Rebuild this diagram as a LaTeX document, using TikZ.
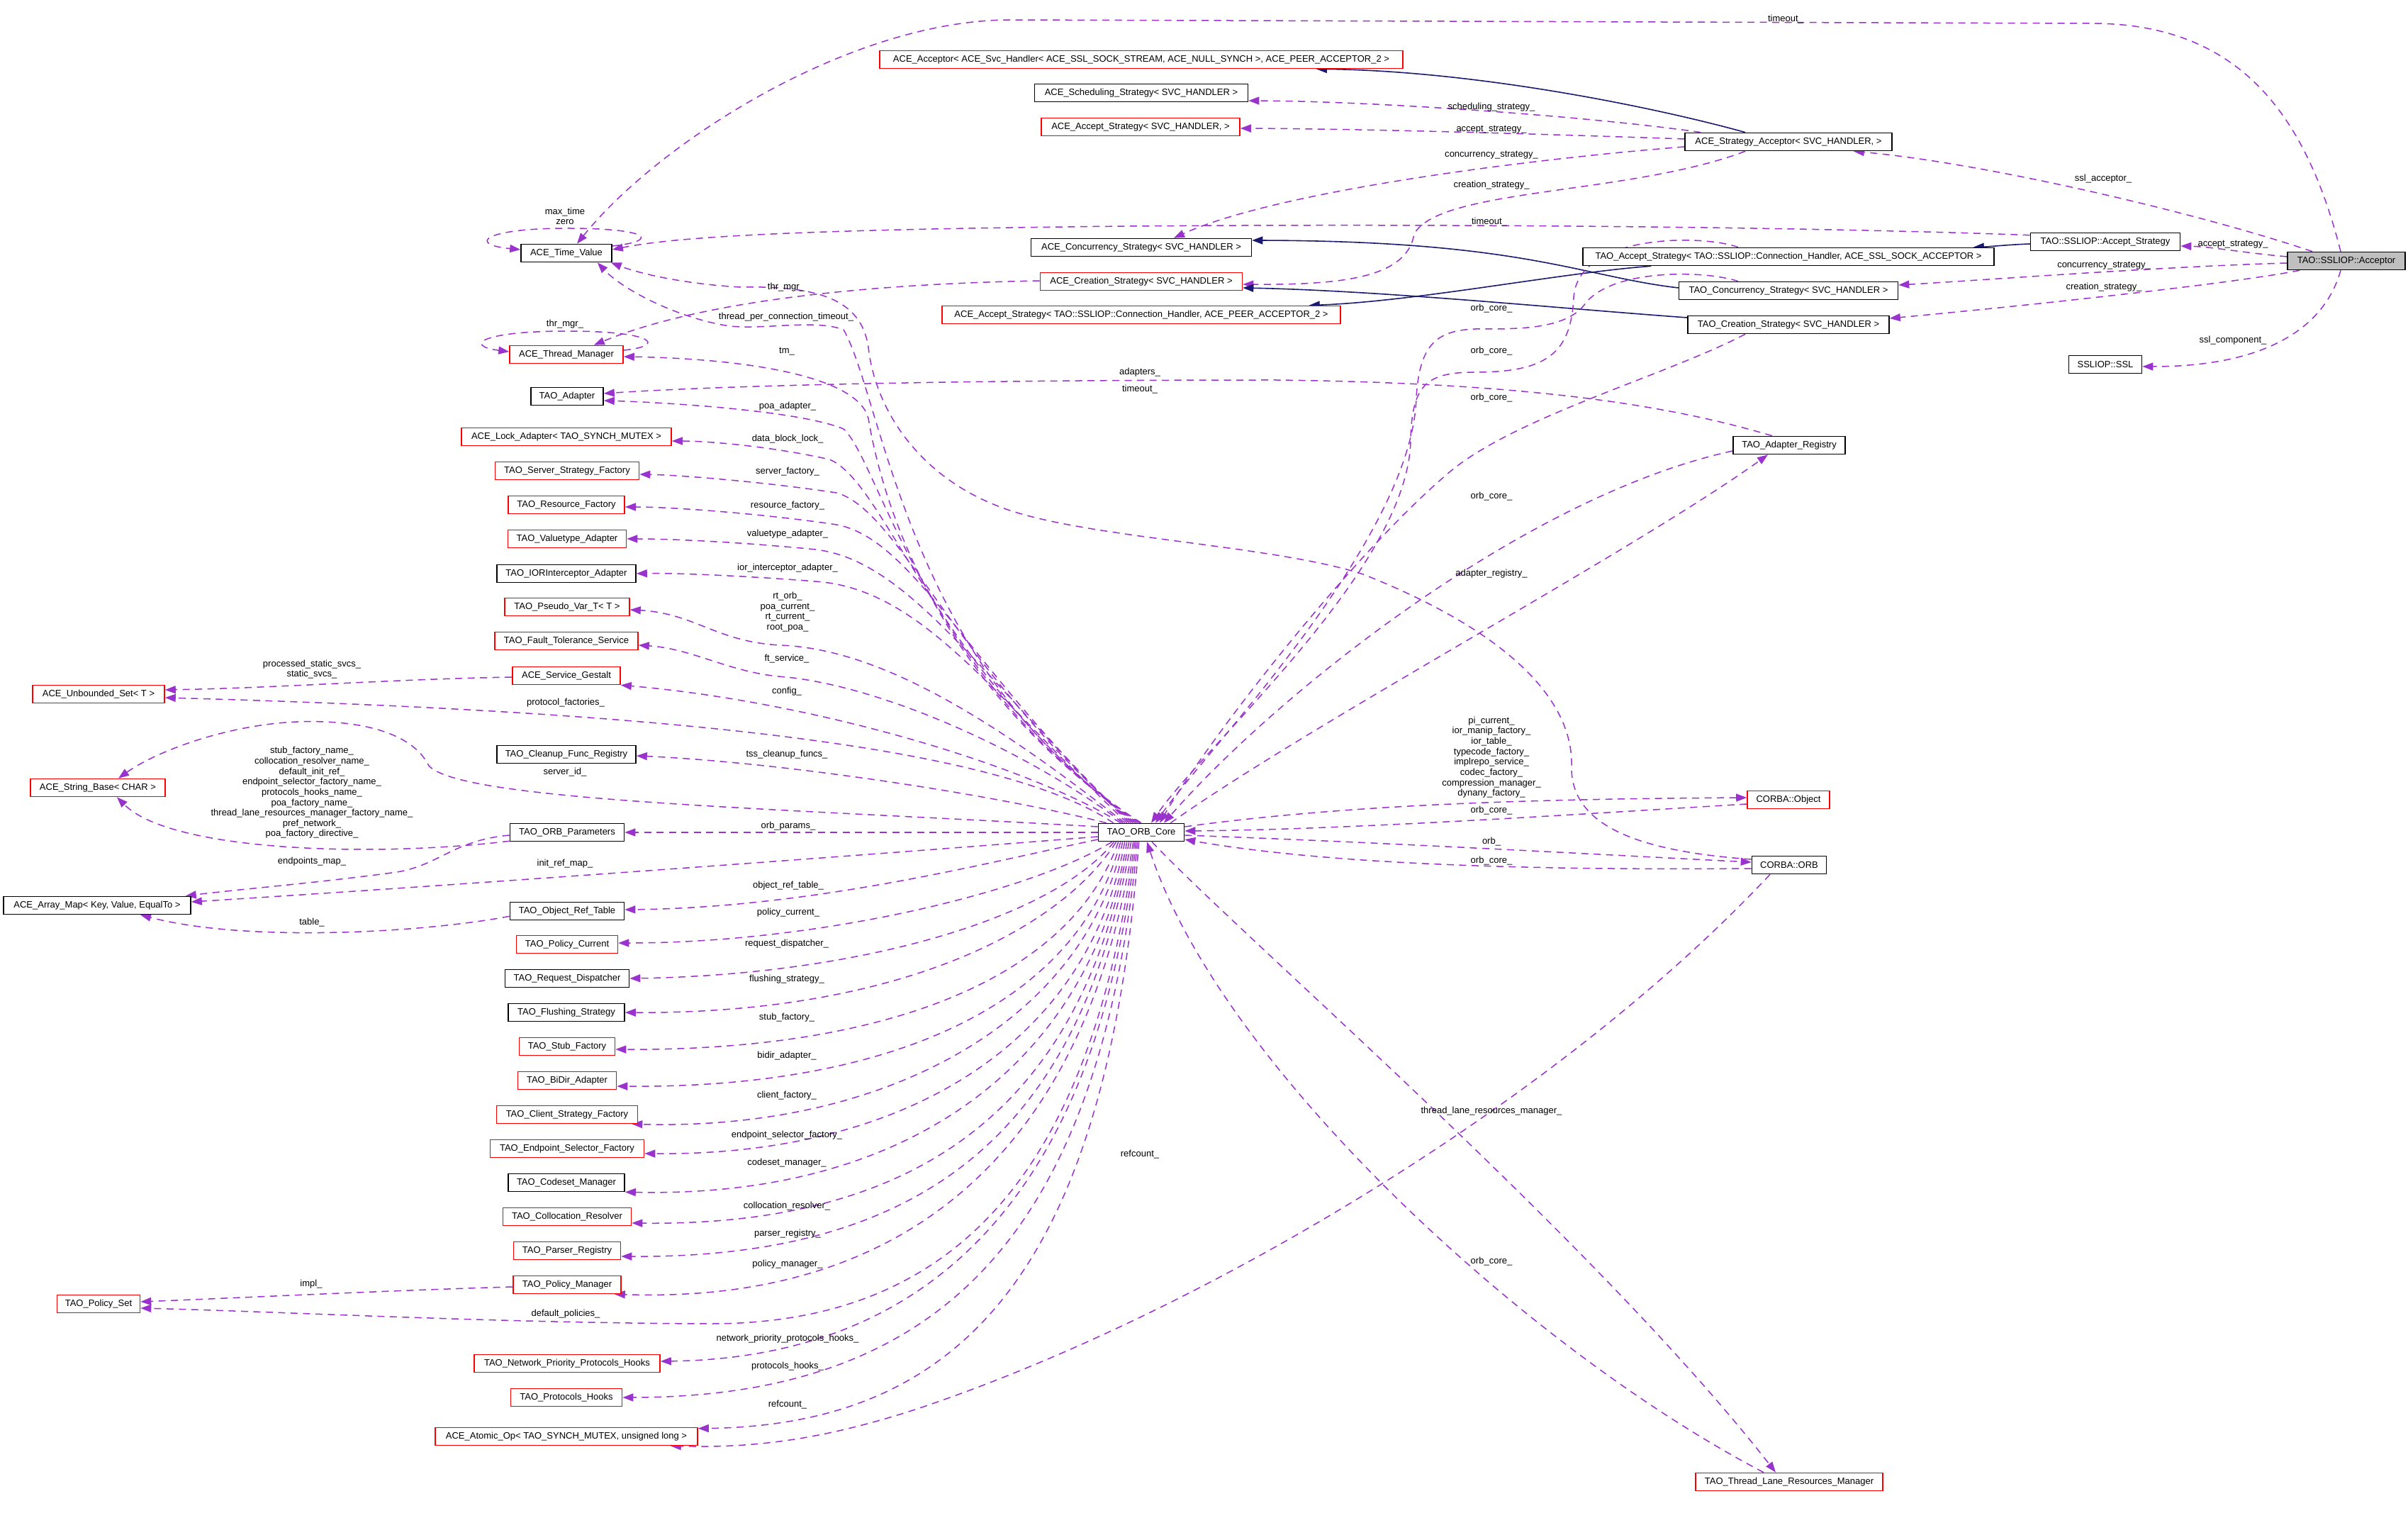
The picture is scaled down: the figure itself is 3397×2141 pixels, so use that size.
\documentclass[tikz,border=0pt]{standalone}
\usepackage{fontspec}
\setmainfont{Liberation Sans}
\usetikzlibrary{arrows.meta,calc}
\pgfdeclarelayer{bg}
\pgfsetlayers{bg,main}
\definecolor{depc}{HTML}{9A32CD}
\definecolor{inhc}{HTML}{191970}
\definecolor{grayfill}{HTML}{BFBFBF}
\newcommand{\dgfont}{\fontsize{3.7pt}{4.17pt}\selectfont}
\begin{document}
\begin{tikzpicture}[x=0.1mm,y=-0.1mm,
 box/.style={draw=black, line width=0.16mm, fill=white, minimum height=2.5mm, inner sep=0pt, font=\dgfont},
 rbox/.style={box, draw=red},
 mbox/.style={box, fill=grayfill},
 lbl/.style={font=\dgfont, inner sep=0pt, align=center},
 dep/.style={draw=depc, line width=0.15mm, dash pattern=on 1mm off 0.75mm, -{Triangle[length=1.5mm,width=1.1mm]}},
 inh/.style={draw=inhc, line width=0.16mm, -{Triangle[length=1.5mm,width=1.1mm]}}]
\useasboundingbox (0,0) rectangle (3397,2141);
% ---------- nodes ----------
\node[rbox, minimum width=73.8mm] (acc) at (1610,84) {ACE\_Acceptor< ACE\_Svc\_Handler< ACE\_SSL\_SOCK\_STREAM, ACE\_NULL\_SYNCH >, ACE\_PEER\_ACCEPTOR\_2 >};
\node[box, minimum width=30.1mm] (sched) at (1610,131) {ACE\_Scheduling\_Strategy< SVC\_HANDLER >};
\node[rbox, minimum width=28.0mm] (acs) at (1609,179) {ACE\_Accept\_Strategy< SVC\_HANDLER, >};
\node[box, minimum width=12.8mm] (tv) at (799,357) {ACE\_Time\_Value};
\node[box, minimum width=31.1mm] (ccs) at (1610,349) {ACE\_Concurrency\_Strategy< SVC\_HANDLER >};
\node[rbox, minimum width=28.5mm] (crs) at (1610,397) {ACE\_Creation\_Strategy< SVC\_HANDLER >};
\node[rbox, minimum width=56.2mm] (acst) at (1610,444) {ACE\_Accept\_Strategy< TAO::SSLIOP::Connection\_Handler, ACE\_PEER\_ACCEPTOR\_2 >};
\node[rbox, minimum width=16.0mm] (tmgr) at (799,500) {ACE\_Thread\_Manager};
\node[box, minimum width=29.2mm] (sa) at (2523,200) {ACE\_Strategy\_Acceptor< SVC\_HANDLER, >};
\node[box, minimum width=21.1mm] (sas) at (2970,341) {TAO::SSLIOP::Accept\_Strategy};
\node[box, minimum width=58.0mm] (tas) at (2523,362) {TAO\_Accept\_Strategy< TAO::SSLIOP::Connection\_Handler, ACE\_SSL\_SOCK\_ACCEPTOR >};
\node[mbox, minimum width=16.6mm] (main) at (3310,368) {TAO::SSLIOP::Acceptor};
\node[box, minimum width=30.9mm] (tcs) at (2523,410) {TAO\_Concurrency\_Strategy< SVC\_HANDLER >};
\node[box, minimum width=28.4mm] (tcr) at (2523,458) {TAO\_Creation\_Strategy< SVC\_HANDLER >};
\node[box, minimum width=10.3mm] (ssl) at (2970,514) {SSLIOP::SSL};
\node[box, minimum width=10.2mm] (ad) at (800,559) {TAO\_Adapter};
\node[rbox, minimum width=29.6mm] (lock) at (799,616) {ACE\_Lock\_Adapter< TAO\_SYNCH\_MUTEX >};
\node[rbox, minimum width=20.3mm] (ssf) at (800,664) {TAO\_Server\_Strategy\_Factory};
\node[rbox, minimum width=16.4mm] (rf) at (799,712) {TAO\_Resource\_Factory};
\node[rbox, minimum width=16.7mm] (va) at (800,760) {TAO\_Valuetype\_Adapter};
\node[box, minimum width=19.6mm] (ior) at (799,809) {TAO\_IORInterceptor\_Adapter};
\node[rbox, minimum width=17.6mm] (pv) at (800,856) {TAO\_Pseudo\_Var\_T< T >};
\node[rbox, minimum width=20.2mm] (ft) at (799,904) {TAO\_Fault\_Tolerance\_Service};
\node[rbox, minimum width=15.2mm] (sg) at (799,953) {ACE\_Service\_Gestalt};
\node[rbox, minimum width=18.6mm] (us) at (139,979) {ACE\_Unbounded\_Set< T >};
\node[box, minimum width=19.6mm] (cfr) at (799,1064) {TAO\_Cleanup\_Func\_Registry};
\node[rbox, minimum width=19.0mm] (sb) at (138,1111) {ACE\_String\_Base< CHAR >};
\node[box, minimum width=16.1mm] (op) at (800,1174) {TAO\_ORB\_Parameters};
\node[box, minimum width=12.1mm] (core) at (1610,1174) {TAO\_ORB\_Core};
\node[box, minimum width=26.4mm] (am) at (137,1277) {ACE\_Array\_Map< Key, Value, EqualTo >};
\node[box, minimum width=16.1mm] (ort) at (800,1285) {TAO\_Object\_Ref\_Table};
\node[rbox, minimum width=14.3mm] (pc) at (800,1332) {TAO\_Policy\_Current};
\node[box, minimum width=17.5mm] (rd) at (800,1380) {TAO\_Request\_Dispatcher};
\node[box, minimum width=16.4mm] (fs) at (799,1428) {TAO\_Flushing\_Strategy};
\node[rbox, minimum width=13.5mm] (sf) at (800,1476) {TAO\_Stub\_Factory};
\node[rbox, minimum width=13.9mm] (bd) at (800,1524) {TAO\_BiDir\_Adapter};
\node[rbox, minimum width=19.9mm] (csf) at (800,1572) {TAO\_Client\_Strategy\_Factory};
\node[rbox, minimum width=21.7mm] (esf) at (800,1620) {TAO\_Endpoint\_Selector\_Factory};
\node[box, minimum width=16.4mm] (cm) at (799,1668) {TAO\_Codeset\_Manager};
\node[rbox, minimum width=18.1mm] (cr) at (800,1716) {TAO\_Collocation\_Resolver};
\node[rbox, minimum width=15.1mm] (pr) at (800,1764) {TAO\_Parser\_Registry};
\node[rbox, minimum width=15.2mm] (pm) at (800,1812) {TAO\_Policy\_Manager};
\node[rbox, minimum width=11.7mm] (ps) at (139,1839) {TAO\_Policy\_Set};
\node[rbox, minimum width=26.2mm] (npph) at (800,1923) {TAO\_Network\_Priority\_Protocols\_Hooks};
\node[rbox, minimum width=15.7mm] (ph) at (799,1971) {TAO\_Protocols\_Hooks};
\node[rbox, minimum width=37.0mm] (ao) at (799,2026) {ACE\_Atomic\_Op< TAO\_SYNCH\_MUTEX, unsigned long >};
\node[box, minimum width=15.8mm] (ar) at (2524,628) {TAO\_Adapter\_Registry};
\node[rbox, minimum width=11.6mm] (obj) at (2523,1128) {CORBA::Object};
\node[box, minimum width=10.5mm] (orb) at (2524,1220) {CORBA::ORB};
\node[rbox, minimum width=26.4mm] (tlrm) at (2524,2090) {TAO\_Thread\_Lane\_Resources\_Manager};
% ---------- labels ----------
\node[lbl] (l01) at (2519,27) {timeout\_};
\node[lbl] (l02) at (2104,151) {scheduling\_strategy\_};
\node[lbl] (l03) at (2104,183) {accept\_strategy\_};
\node[lbl] (l04) at (2104,219) {concurrency\_strategy\_};
\node[lbl] (l05) at (2104,261) {creation\_strategy\_};
\node[lbl] (l06) at (2967,252) {ssl\_acceptor\_};
\node[lbl] (l07) at (2101,313) {timeout\_};
\node[lbl] (l08) at (3150,345) {accept\_strategy\_};
\node[lbl] (l09) at (2968,375) {concurrency\_strategy\_};
\node[lbl] (l10) at (2968,405) {creation\_strategy\_};
\node[lbl] (l11) at (3150,480) {ssl\_component\_};
\node[lbl] (l12) at (2104,435) {orb\_core\_};
\node[lbl] (l13) at (2104,495) {orb\_core\_};
\node[lbl] (l14) at (2104,561) {orb\_core\_};
\node[lbl] (l15) at (2104,700) {orb\_core\_};
\node[lbl] (l16) at (2104,809) {adapter\_registry\_};
\node[lbl] (l17) at (2104,1068) {pi\_current\_\\ior\_manip\_factory\_\\ior\_table\_\\typecode\_factory\_\\implrepo\_service\_\\codec\_factory\_\\compression\_manager\_\\dynany\_factory\_};
\node[lbl] (l18) at (2104,1143) {orb\_core\_};
\node[lbl] (l19) at (2104,1187) {orb\_};
\node[lbl] (l20) at (2104,1214) {orb\_core\_};
\node[lbl] (l21) at (2104,1567) {thread\_lane\_resources\_manager\_};
\node[lbl] (l22) at (1608,1628) {refcount\_};
\node[lbl] (l23) at (2104,1779) {orb\_core\_};
\node[lbl] (l24) at (797,305) {max\_time\\zero};
\node[lbl] (l25) at (1109,405) {thr\_mgr\_};
\node[lbl] (l26) at (1109,447) {thread\_per\_connection\_timeout\_};
\node[lbl] (l27) at (797,457) {thr\_mgr\_};
\node[lbl] (l28) at (1110,496) {tm\_};
\node[lbl] (l29) at (1608,525) {adapters\_};
\node[lbl] (l30) at (1608,549) {timeout\_};
\node[lbl] (l31) at (1111,573) {poa\_adapter\_};
\node[lbl] (l32) at (1111,619) {data\_block\_lock\_};
\node[lbl] (l33) at (1111,665) {server\_factory\_};
\node[lbl] (l34) at (1111,713) {resource\_factory\_};
\node[lbl] (l35) at (1111,753) {valuetype\_adapter\_};
\node[lbl] (l36) at (1111,801) {ior\_interceptor\_adapter\_};
\node[lbl] (l37) at (1111,863) {rt\_orb\_\\poa\_current\_\\rt\_current\_\\root\_poa\_};
\node[lbl] (l38) at (1110,929) {ft\_service\_};
\node[lbl] (l39) at (1110,975) {config\_};
\node[lbl] (l40) at (440,944) {processed\_static\_svcs\_\\static\_svcs\_};
\node[lbl] (l41) at (798,991) {protocol\_factories\_};
\node[lbl] (l42) at (1110,1064) {tss\_cleanup\_funcs\_};
\node[lbl] (l43) at (797,1089) {server\_id\_};
\node[lbl] (l44) at (440,1118) {stub\_factory\_name\_\\collocation\_resolver\_name\_\\default\_init\_ref\_\\endpoint\_selector\_factory\_name\_\\protocols\_hooks\_name\_\\poa\_factory\_name\_\\thread\_lane\_resources\_manager\_factory\_name\_\\pref\_network\_\\poa\_factory\_directive\_};
\node[lbl] (l45) at (1112,1165) {orb\_params\_};
\node[lbl] (l46) at (440,1215) {endpoints\_map\_};
\node[lbl] (l47) at (797,1218) {init\_ref\_map\_};
\node[lbl] (l48) at (1112,1249) {object\_ref\_table\_};
\node[lbl] (l49) at (440,1301) {table\_};
\node[lbl] (l50) at (1112,1287) {policy\_current\_};
\node[lbl] (l51) at (1110,1331) {request\_dispatcher\_};
\node[lbl] (l52) at (1110,1381) {flushing\_strategy\_};
\node[lbl] (l53) at (1110,1435) {stub\_factory\_};
\node[lbl] (l54) at (1110,1489) {bidir\_adapter\_};
\node[lbl] (l55) at (1110,1545) {client\_factory\_};
\node[lbl] (l56) at (1110,1601) {endpoint\_selector\_factory\_};
\node[lbl] (l57) at (1110,1640) {codeset\_manager\_};
\node[lbl] (l58) at (1110,1701) {collocation\_resolver\_};
\node[lbl] (l59) at (1111,1740) {parser\_registry\_};
\node[lbl] (l60) at (1111,1783) {policy\_manager\_};
\node[lbl] (l61) at (439,1811) {impl\_};
\node[lbl] (l62) at (798,1853) {default\_policies\_};
\node[lbl] (l63) at (1111,1888) {network\_priority\_protocols\_hooks\_};
\node[lbl] (l64) at (1111,1927) {protocols\_hooks\_};
\node[lbl] (l65) at (1111,1981) {refcount\_};
% ---------- edges ----------
\begin{pgfonlayer}{bg}
\fill[white] (0,0) rectangle (3397,2141);
% acceptor
\draw[dep] ($(main.north)+(-8,0)$) .. controls (3250,150) and (3150,33) .. (2950,33) -- (1426,28) .. controls (1200,28) and (930,200) .. ($(tv.north)+(15,0)$);
\draw[dep] ($(main.north)+(-48,0)$) .. controls (3100,300) and (2800,230) .. ($(sa.south east)+(-55,0)$);
\draw[dep] ($(main.west)+(0,-6)$) .. controls (3160,356) and (3120,348) .. ($(sas.east)+(0,6)$);
\draw[dep] ($(main.west)+(0,3)$) .. controls (3050,376) and (2800,395) .. ($(tcs.east)+(0,-8)$);
\draw[dep] ($(main.south west)+(18,0)$) .. controls (3150,400) and (2850,432) .. ($(tcr.east)+(0,-9)$);
\draw[dep] ($(main.south)+(-8,0)$) .. controls (3280,460) and (3200,517) .. ($(ssl.east)+(0,3)$);
% strategy acceptor
\draw[inh] ($(sa.north)+(-61,0)$) .. controls (2330,150) and (2080,100) .. ($(acc.south east)+(-123,0)$);
\draw[dep] ($(sa.north west)+(23,0)$) .. controls (2250,165) and (1950,143) .. ($(sched.east)+(0,11)$);
\draw[dep] ($(sa.west)+(0,-4)$) .. controls (2200,190) and (1950,182) .. ($(acs.east)+(0,2)$);
\draw[dep] ($(sa.west)+(0,7)$) .. controls (2150,225) and (1800,270) .. ($(ccs.north)+(46,0)$);
\draw[dep] ($(sa.south)+(-61,0)$) .. controls (2300,275) and (2030,265) .. (1995,330) .. controls (1985,390) and (1900,402) .. ($(crs.east)+(0,4)$);
% time value loop
\draw[dep] ($(tv.east)+(0,-10)$) .. controls (930,340) and (920,322) .. (800,322) .. controls (680,322) and (660,345) .. ($(tv.west)+(0,-5)$);
% accept strategy
\draw[inh] ($(sas.west)+(0,3)$) .. controls (2835,345) and (2805,348) .. ($(tas.north east)+(-30,0)$);
\draw[dep] ($(sas.north west)+(0,4)$) .. controls (2500,318) and (1900,315) .. (1500,320) .. controls (1100,325) and (950,335) .. ($(tv.east)+(0,-5)$);
\draw[inh] ($(tas.south west)+(97,0)$) .. controls (2200,385) and (2000,425) .. ($(acst.north east)+(-45,0)$);
\draw[inh] ($(tcs.west)+(0,-4)$) .. controls (2230,390) and (2150,340) .. ($(ccs.east)+(0,-10)$);
\draw[inh] ($(tcr.west)+(0,-10)$) .. controls (2200,435) and (1950,410) .. ($(crs.east)+(0,9)$);
% thread manager
\draw[dep] ($(crs.west)+(0,-1)$) .. controls (1250,400) and (1000,420) .. ($(tmgr.north east)+(-42,0)$);
\draw[dep] ($(tmgr.east)+(0,-6)$) .. controls (940,488) and (925,467) .. (800,467) .. controls (675,467) and (655,488) .. ($(tmgr.west)+(0,-4)$);
% orb_core from strategies / registry
\draw[dep] ($(tas.north)+(-71,0)$) .. controls (2400,330) and (2225,330) .. (2220,420) .. controls (2216,500) and (2180,525) .. (2080,525) .. controls (2010,525) and (1992,545) .. (1990,620) .. controls (1988,800) and (1700,1050) .. ($(core.north)+(14,0)$);
\draw[dep] ($(tcs.north)+(-71,0)$) .. controls (2400,380) and (2270,380) .. (2235,430) .. controls (2210,462) and (2150,464) .. (2100,464) .. controls (2030,462) and (2003,480) .. (1998,560) .. controls (1993,760) and (1700,1060) .. ($(core.north)+(20,0)$);
\draw[dep] ($(tcr.south)+(-61,0)$) .. controls (2350,530) and (2130,590) .. (2040,670) .. controls (1900,790) and (1700,1050) .. ($(core.north)+(26,0)$);
\draw[dep] ($(ar.west)+(0,8)$) .. controls (2150,700) and (1800,980) .. ($(core.north)+(32,0)$);
\draw[dep] ($(core.north east)+(-20,0)$) .. controls (1850,1020) and (2300,780) .. ($(ar.south)+(-30,0)$);
\draw[dep] ($(ar.north)+(-24,0)$) .. controls (2350,570) and (2150,540) .. (1800,536) .. controls (1300,536) and (1000,545) .. ($(ad.east)+(0,-4)$);
% CORBA
\draw[dep] ($(core.east)+(0,-8)$) .. controls (1900,1135) and (2150,1127) .. ($(obj.west)+(0,-3)$);
\draw[dep] ($(obj.west)+(0,6)$) .. controls (2200,1150) and (1900,1170) .. ($(core.east)+(0,-2)$);
\draw[dep] ($(core.east)+(0,4)$) .. controls (1950,1188) and (2250,1205) .. ($(orb.west)+(0,-4)$);
\draw[dep] ($(orb.west)+(0,5)$) .. controls (2100,1228) and (1850,1215) .. ($(core.east)+(0,10)$);
\draw[dep] ($(orb.west)+(0,-8)$) .. controls (2300,1200) and (2215,1160) .. (2217,1080) .. controls (2219,1000) and (2150,900) .. (1923,810) .. controls (1800,770) and (1550,760) .. (1428,721) .. controls (1300,680) and (1235,580) .. (1225,490) .. controls (1215,420) and (1150,403) .. (1044,405) .. controls (960,400) and (900,385) .. ($(tv.south east)+(-2,0)$);
\draw[dep] ($(orb.south)+(-27,0)$) .. controls (2200,1550) and (1700,1850) .. (1300,1985) .. controls (1150,2035) and (1050,2042) .. ($(ao.south east)+(-39,0)$);
% thread lane
\draw[dep] ($(core.south)+(15,0)$) .. controls (1750,1320) and (2250,1750) .. ($(tlrm.north)+(-19,0)$);
\draw[dep] ($(tlrm.north)+(-36,0)$) .. controls (2150,1900) and (1720,1500) .. ($(core.south)+(8,0)$);
% core: upper-left group
\draw[dep] ($(core.north)+(-2,0)$) .. controls (1290,950) and (1235,650) .. (1225,590) .. controls (1210,530) and (1050,506) .. ($(tmgr.east)+(0,3)$);
\draw[dep] ($(core.north)+(0,0)$) .. controls (1280,950) and (1245,560) .. (1190,465) .. controls (1150,450) and (1080,465) .. (1030,460) .. controls (960,450) and (880,410) .. ($(tv.south east)+(-21,0)$);
\draw[dep] ($(core.north)+(-5,0)$) .. controls (1300,950) and (1240,650) .. (1190,605) .. controls (1130,580) and (950,568) .. ($(ad.east)+(0,6)$);
\draw[dep] ($(core.north)+(-8,0)$) .. controls (1320,950) and (1250,680) .. (1170,648) .. controls (1090,630) and (1000,622) .. ($(lock.east)+(0,6)$);
\draw[dep] ($(core.north)+(-11,0)$) .. controls (1350,950) and (1270,720) .. (1180,695) .. controls (1080,680) and (960,670) .. ($(ssf.east)+(0,5)$);
\draw[dep] ($(core.north)+(-14,0)$) .. controls (1370,950) and (1290,760) .. (1180,740) .. controls (1080,725) and (950,715) .. ($(rf.east)+(0,3)$);
\draw[dep] ($(core.north)+(-17,0)$) .. controls (1380,950) and (1280,790) .. (1150,775) .. controls (1050,765) and (950,760) .. (va.east);
\draw[dep] ($(core.north)+(-20,0)$) .. controls (1400,980) and (1300,830) .. (1150,820) .. controls (1050,812) and (950,808) .. (ior.east);
\draw[dep] ($(core.north)+(-23,0)$) .. controls (1420,1030) and (1250,915) .. (1100,910) .. controls (1010,905) and (980,865) .. ($(pv.east)+(0,4)$);
\draw[dep] ($(core.north)+(-26,0)$) .. controls (1450,1060) and (1250,970) .. (1110,955) .. controls (1030,950) and (980,915) .. ($(ft.east)+(0,6)$);
\draw[dep] ($(core.north)+(-29,0)$) .. controls (1450,1080) and (1150,990) .. (sg.south east);
\draw[dep] ($(core.north west)+(22,0)$) .. controls (1420,1060) and (1000,1005) .. ($(us.east)+(0,5)$);
\draw[dep] ($(core.north west)+(12,0)$) .. controls (1400,1120) and (1100,1075) .. ($(cfr.east)+(0,2)$);
% core: left group
\draw[dep] ($(core.west)+(0,-8)$) .. controls (1100,1140) and (650,1130) .. (605,1080) .. controls (580,1030) and (500,1015) .. (420,1018) .. controls (320,1022) and (220,1060) .. ($(sb.north)+(29,0)$);
\draw[dep] (core.west) -- (op.east);
\draw[dep] ($(core.west)+(0,6)$) .. controls (1300,1200) and (700,1245) .. ($(am.east)+(0,-5)$);
\draw[dep] ($(core.west)+(0,10)$) .. controls (1400,1215) and (1150,1280) .. ($(ort.east)+(0,-2)$);
% other left edges
\draw[dep] ($(sg.west)+(0,2)$) .. controls (550,958) and (400,970) .. ($(us.east)+(0,-6)$);
\draw[dep] ($(op.west)+(0,4)$) .. controls (640,1185) and (620,1220) .. (560,1230) .. controls (450,1245) and (330,1255) .. ($(am.north east)+(-8,0)$);
\draw[dep] ($(op.south west)+(0,-1)$) .. controls (520,1210) and (240,1200) .. ($(sb.south)+(27,0)$);
\draw[dep] ($(ort.south west)+(0,-6)$) .. controls (600,1315) and (350,1330) .. ($(am.south)+(61,0)$);
\draw[dep] ($(pm.west)+(0,3)$) .. controls (550,1820) and (350,1830) .. ($(ps.east)+(0,-3)$);
% core: lower group
\draw[dep] ($(core.south west)+(20,0)$) .. controls (1450,1260) and (1150,1330) .. ($(pc.east)+(0,-2)$);
\draw[dep] ($(core.south west)+(23,0)$) .. controls (1480,1300) and (1200,1375) .. (rd.east);
\draw[dep] ($(core.south west)+(26,0)$) .. controls (1490,1320) and (1250,1430) .. (fs.east);
\draw[dep] ($(core.south west)+(29,0)$) .. controls (1510,1380) and (1250,1482) .. ($(sf.east)+(0,4)$);
\draw[dep] ($(core.south west)+(32,0)$) .. controls (1520,1420) and (1250,1535) .. ($(bd.east)+(0,8)$);
\draw[dep] ($(core.south west)+(35,0)$) .. controls (1530,1440) and (1250,1595) .. ($(csf.south east)+(-9,0)$);
\draw[dep] ($(core.south west)+(38,0)$) .. controls (1535,1470) and (1280,1630) .. ($(esf.east)+(0,7)$);
\draw[dep] ($(core.south west)+(41,0)$) .. controls (1540,1484) and (1300,1690) .. (cm.south east);
\draw[dep] ($(core.south west)+(44,0)$) .. controls (1530,1530) and (1330,1730) .. ($(cr.east)+(0,9)$);
\draw[dep] ($(core.south west)+(47,0)$) .. controls (1530,1550) and (1350,1775) .. ($(pr.east)+(0,8)$);
\draw[dep] ($(core.south west)+(50,0)$) .. controls (1535,1600) and (1300,1840) .. ($(pm.south east)+(-10,0)$);
\draw[dep] ($(core.south west)+(52,0)$) .. controls (1540,1650) and (1350,1868) .. (1000,1867) .. controls (700,1866) and (400,1850) .. ($(ps.east)+(0,6)$);
\draw[dep] ($(core.south west)+(54,0)$) .. controls (1545,1700) and (1300,1915) .. ($(npph.east)+(0,-3)$);
\draw[dep] ($(core.south west)+(56,0)$) .. controls (1550,1750) and (1320,1970) .. (ph.east);
\draw[dep] ($(core.south west)+(58,0)$) .. controls (1560,1800) and (1350,2010) .. ($(ao.north east)+(0,2)$);
\end{pgfonlayer}
\end{tikzpicture}
\end{document}
